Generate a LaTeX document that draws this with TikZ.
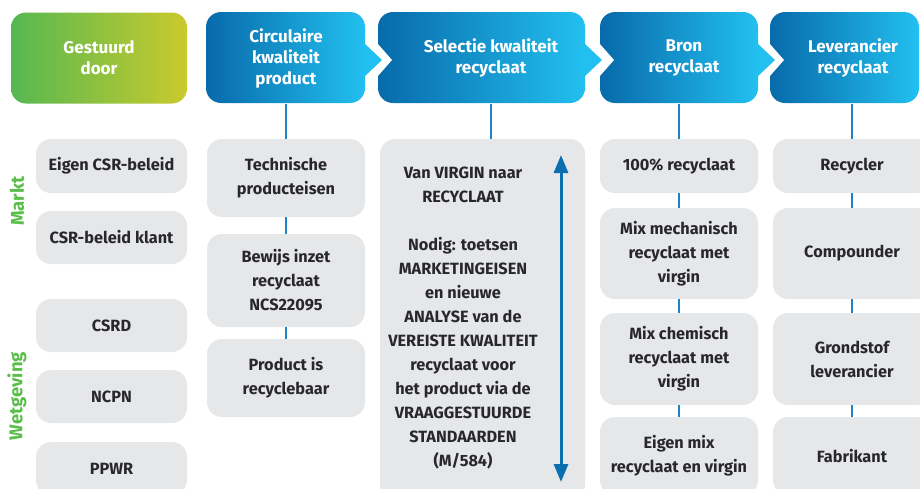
\documentclass[tikz,border=0pt]{standalone}
\usepackage{fontspec}
\setmainfont{Fira Sans}
\usetikzlibrary{arrows.meta}

\definecolor{hdrdark}{RGB}{8,106,170}
\definecolor{hdrlight}{RGB}{34,192,240}
\definecolor{grnleft}{RGB}{86,184,82}
\definecolor{grnright}{RGB}{202,202,44}
\definecolor{boxgray}{RGB}{230,231,233}
\definecolor{boxtext}{RGB}{40,40,44}
\definecolor{linkblue}{RGB}{30,132,200}
\definecolor{arrblue}{RGB}{10,110,175}
\definecolor{sidegreen}{RGB}{88,190,72}

\begin{document}
\begin{tikzpicture}[x=1pt,y=-1pt,
    hdr/.style={minimum height=91,inner sep=0,align=center,text=white,
      font=\fontsize{17}{21}\selectfont\bfseries},
    txt/.style={inner sep=0,align=center,text=boxtext,
      font=\fontsize{16.3}{24}\selectfont\bfseries},
    box/.style={txt,fill=boxgray,rounded corners=15,minimum width=158},
    side/.style={rotate=90,text=sidegreen,font=\fontsize{18.5}{20}\selectfont\bfseries},
    link/.style={linkblue,line width=1.3},
  ]
  \useasboundingbox (0,0) rectangle (920,488);

  % header shapes
  \foreach \xa/\xb in {206/365,378/585,600/758,770/919}
    \shade[left color=hdrdark,right color=hdrlight,rounded corners=15] (\xa,12) rectangle (\xb,103);
  \foreach \xa in {378,600,770}
    \fill[white] (\xa-1,43) -- (\xa+14,60) -- (\xa-1,77) -- cycle;
  \foreach \xb in {365,585,758}
    \fill[hdrlight] (\xb-1,43) -- (\xb+17,60) -- (\xb-1,77) -- cycle;

  % header texts
  \node[hdr,minimum width=176,rounded corners=15,left color=grnleft,right color=grnright] at (99,58) (g) {Gestuurd\\door};
  \node[hdr] at (286,58) (h2) {Circulaire\\kwaliteit\\product};
  \node[hdr] at (491,58) (h3) {Selectie kwaliteit\\recyclaat};
  \node[hdr] at (684,58) (h4) {Bron\\recyclaat};
  \node[hdr] at (853,58) (h5) {Leverancier\\recyclaat};

  \node[side] at (17,201) (mk) {Markt};
  \node[side] at (17,396) (wg) {Wetgeving};

  % gestuurd door
  \node[box,minimum width=151,minimum height=54] at (111.5,166) (m1) {Eigen CSR-beleid};
  \node[box,minimum width=151,minimum height=53] at (111.5,237.5) (m2) {CSR-beleid klant};
  \node[box,minimum width=151,minimum height=53] at (111.5,325.5) (w1) {CSRD};
  \node[box,minimum width=151,minimum height=53] at (111.5,396.5) (w2) {NCPN};
  \node[box,minimum width=151,minimum height=53] at (111.5,468.5) (w3) {PPWR};

  % circulaire kwaliteit product
  \node[box,minimum height=78] at (286,178) (c1) {Technische\\producteisen};
  \node[box,minimum height=93] at (286,280.5) (c2) {Bewijs inzet\\recyclaat\\NCS22095};
  \node[box,minimum height=78] at (286,378) (c3) {Product is\\recyclebaar};

  % selectie kwaliteit recyclaat
  \node[box,minimum width=205,minimum height=361] at (482.5,319.5) (sel) {};
  \node[txt] at (463,318) (selt) {Van VIRGIN naar\\RECYCLAAT\\[24pt]Nodig: toetsen\\MARKETINGEISEN\\en nieuwe\\ANALYSE van de\\VEREISTE KWALITEIT\\recyclaat voor\\het product via de\\VRAAGGESTUURDE\\STANDAARDEN\\(M/584)};
  \coordinate (atop) at (561,155);
  \coordinate (abot) at (561,482);

  % bron recyclaat
  \node[box,minimum height=54] at (679,166) (b1) {100\% recyclaat};
  \node[box,minimum height=91] at (679,253.5) (b2) {Mix mechanisch\\recyclaat met\\virgin};
  \node[box,minimum height=92] at (679,359) (b3) {Mix chemisch\\recyclaat met\\virgin};
  \node[box,minimum height=78] at (679,456) (b4) {Eigen mix\\recyclaat en virgin};

  % leverancier recyclaat
  \node[box,minimum height=54] at (852,166) (l1) {Recycler};
  \node[box,minimum height=91] at (852,253.5) (l2) {Compounder};
  \node[box,minimum height=92] at (852,359) (l3) {Grondstof\\leverancier};
  \node[box,minimum height=78] at (852,456) (l4) {Fabrikant};

  % connectors
  \draw[link] (h2) -- (c1);
  \draw[link] (c1) -- (c2);
  \draw[link] (c2) -- (c3);
  \draw[link] (h3.south) -- (h3.south |- sel.north);
  \draw[link] (b1.north |- h4.south) -- (b1);
  \draw[link] (b1) -- (b2);
  \draw[link] (b2) -- (b3);
  \draw[link] (b3) -- (b4);
  \draw[link] (l1.north |- h5.south) -- (l1);
  \draw[link] (l1) -- (l2);
  \draw[link] (l2) -- (l3);
  \draw[link] (l3) -- (l4);
  \draw[arrblue,line width=3pt,{Triangle[width=14pt,length=18pt]}-{Triangle[width=14pt,length=18pt]}] (atop) -- (abot);
\end{tikzpicture}
\end{document}
